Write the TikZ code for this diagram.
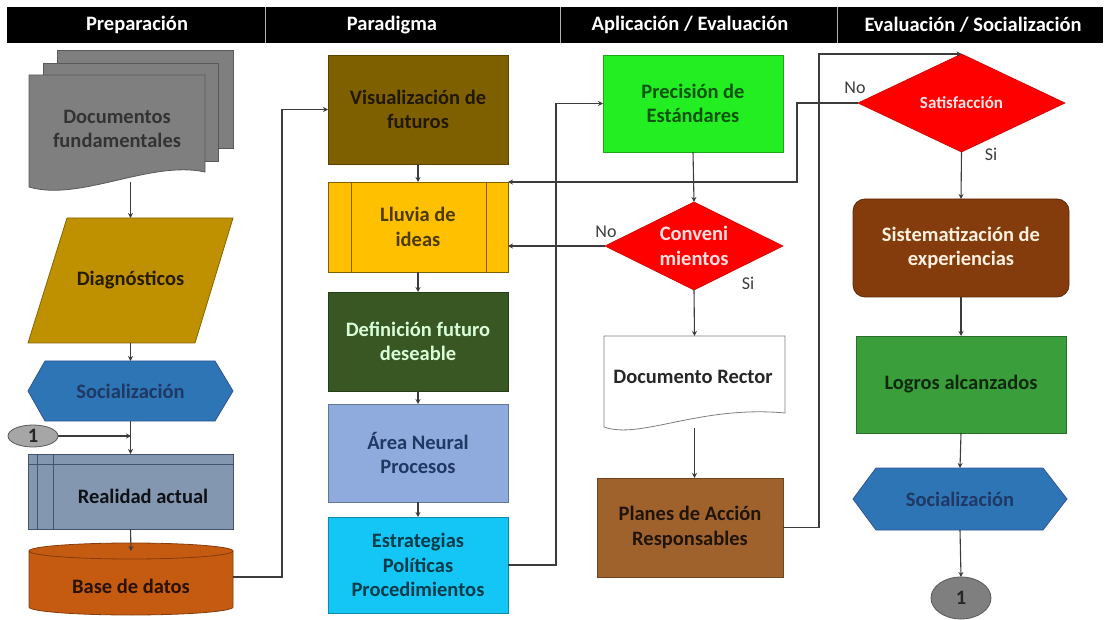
\documentclass[tikz,border=0pt]{standalone}
\usepackage{fontspec}
\setmainfont{Carlito}
\usetikzlibrary{arrows.meta,shapes.geometric}
\definecolor{lineC}{HTML}{3C3C3C}
\definecolor{docF}{HTML}{7F7F7F}
\definecolor{docD}{HTML}{595959}
\definecolor{diagF}{HTML}{BF9000}
\definecolor{socF}{HTML}{2E75B6}
\definecolor{socD}{HTML}{2F5597}
\definecolor{navyT}{HTML}{1F3864}
\definecolor{c1F}{HTML}{A6A6A6}
\definecolor{realF}{HTML}{8497B0}
\definecolor{realD}{HTML}{44546A}
\definecolor{dbF}{HTML}{C55A11}
\definecolor{dbD}{HTML}{843C0C}
\definecolor{visF}{HTML}{7F6000}
\definecolor{llF}{HTML}{FFC000}
\definecolor{defF}{HTML}{385723}
\definecolor{areaF}{HTML}{8FAADC}
\definecolor{estF}{HTML}{13C6F5}
\definecolor{precF}{HTML}{22EE22}
\definecolor{redF}{HTML}{FF0000}
\definecolor{planF}{HTML}{A0622D}
\definecolor{sistF}{HTML}{843C0C}
\definecolor{logF}{HTML}{3A9E3A}
\begin{document}
\begin{tikzpicture}[x=1pt,y=-1pt,
  lbl/.style={font=\fontsize{20.5}{24.5}\selectfont\bfseries, align=center, inner sep=0pt, outer sep=0pt},
  hdr/.style={lbl, text=white},
  frame/.style={inner sep=0pt, outer sep=0pt},
  boxn/.style={frame, draw=#1!70!black, fill=#1, line width=0.8pt},
  conn/.style={draw=lineC, line width=1.1pt},
  arr/.style={conn, -{Stealth[length=5pt,width=5pt]}},
  yesno/.style={font=\fontsize{18}{20}\selectfont, text=lineC, inner sep=0pt}
]
\useasboundingbox (0,0) rectangle (1106,620);
% header
\fill[black] (7,7) rectangle (1103,43);
\draw[gray!60, line width=1pt] (265,7)--(265,43) (560,7)--(560,43) (837,7)--(837,43);
\node[hdr] (h1) at (137,25) {Preparación};
\node[hdr] (h2) at (392,25) {Paradigma};
\node[hdr] (h3) at (690,25) {Aplicación / Evaluación};
\node[hdr] (h4) at (973,25) {Evaluación / Socialización};

% ---------- column 1 ----------
% multi document
\filldraw[fill=docF, draw=docD, line width=0.8pt] (57,50) rectangle (233,148);
\filldraw[fill=docF, draw=docD, line width=0.8pt] (43,63) rectangle (218,161);
\filldraw[fill=docF, draw=docD, line width=0.8pt] (29,75) -- (205,75) -- (205,172) .. controls (150,160) and (80,202) .. (29,187) -- cycle;
\node[lbl, text=black!80, frame, minimum width=176, minimum height=107] (doc) at (117,129) {Documentos\\fundamentales};
% parallelogram
\filldraw[fill=diagF, draw=diagF!70!black, line width=0.8pt] (67,218) -- (233,218) -- (195,343) -- (28,343) -- cycle;
\node[lbl, text=black!80!diagF, frame, minimum width=205, minimum height=125] (diag) at (130.5,280.5) {Diagnósticos};
% hexagon
\filldraw[fill=socF, draw=socD, line width=0.8pt] (28,391) -- (45,361) -- (215,361) -- (233,391) -- (215,421) -- (45,421) -- cycle;
\node[lbl, text=navyT, frame, minimum width=205, minimum height=60] (soc1) at (130.5,391) {Socialización};
% connector 1
\node[frame, draw=docD, fill=c1F, ellipse, minimum width=50, minimum height=22, line width=0.8pt] (c1) at (33,436) {};
\node[lbl, text=black!85] at (33,436) {1};
\coordinate (j1) at (131,436);
% predefined process
\node[boxn=realF, draw=realD, minimum width=205, minimum height=75] (real) at (130.5,491.5) {};
\draw[realD, line width=0.8pt] (28,464) -- (233,464) (37,454) -- (37,529) (53,454) -- (53,529);
\node[lbl, text=black!80!realD] (realt) at (143,496) {Realidad actual};
% database cylinder
\filldraw[fill=dbF, draw=dbD, line width=0.8pt] (29,551) -- (29,607) arc[start angle=180, end angle=0, x radius=102, y radius=8] -- (233,551) arc[start angle=0, end angle=-180, x radius=102, y radius=8] -- cycle;
\draw[dbD, line width=0.8pt] (29,551) arc[start angle=180, end angle=0, x radius=102, y radius=8];
\node[lbl, text=black!80!dbF, frame, minimum width=204, minimum height=64] (db) at (131,583) {};
\node[lbl, text=black!80!dbF] at (131,586) {Base de datos};

% ---------- column 2 ----------
\node[boxn=visF, lbl, text=black!75!visF, minimum width=180, minimum height=109] (vis) at (418,109.5) {Visualización de\\futuros};
\node[boxn=llF, draw=visF, lbl, text=black!70!llF, minimum width=180, minimum height=90] (llu) at (418,227) {Lluvia de\\ideas};
\draw[visF, line width=0.8pt] (351,182) -- (351,272) (486,182) -- (486,272);
\node[boxn=defF, lbl, text=green!15!white, minimum width=180, minimum height=99] (def) at (418,341.5) {Definición futuro\\deseable};
\node[boxn=areaF, lbl, text=navyT, minimum width=180, minimum height=98] (area) at (418,453) {Área Neural\\Procesos};
\node[boxn=estF, lbl, text=black!70!estF, minimum width=180, minimum height=96] (est) at (418,565) {Estrategias\\Políticas\\Procedimientos};

% ---------- column 3 ----------
\node[boxn=precF, lbl, text=black!65!precF, minimum width=180, minimum height=97] (prec) at (693,103.5) {Precisión de\\Estándares};
\filldraw[fill=redF, draw=redF!80!black, line width=0.6pt] (605,246) -- (694,202) -- (783,246) -- (694,290) -- cycle;
\node[lbl, text=red!12!white, frame, minimum width=178, minimum height=88] (conv) at (694,246) {Conveni\\mientos};
\filldraw[fill=white, draw=docF, line width=0.8pt] (604,336) -- (785,336) -- (785,413) .. controls (700,405) and (640,440) .. (604,427) -- cycle;
\node[frame, minimum width=181, minimum height=92] (rector) at (694.5,382) {};
\node[lbl, text=black!85] at (693,377) {Documento Rector};
\node[boxn=planF, lbl, text=black!80!planF, minimum width=186, minimum height=99] (plan) at (690,527.5) {Planes de Acción\\Responsables};

% ---------- column 4 ----------
\filldraw[fill=redF, draw=redF!80!black, line width=0.6pt] (858,103) -- (961.5,54) -- (1065,103) -- (961.5,152) -- cycle;
\node[lbl, font=\fontsize{17}{20}\selectfont\bfseries, text=red!10!white, frame, minimum width=207, minimum height=98] (sat) at (961.5,103) {Satisfacción};
\node[boxn=sistF, rounded corners=12pt, lbl, text=orange!12!white, minimum width=216, minimum height=98] (sist) at (961,248) {Sistematización de\\experiencias};
\node[boxn=logF, lbl, text=black!75!logF, minimum width=210, minimum height=97] (logr) at (961,384.5) {Logros alcanzados};
\filldraw[fill=socF, draw=socD, line width=0.8pt] (853,499) -- (876,468) -- (1043,468) -- (1067,499) -- (1043,530) -- (876,530) -- cycle;
\node[lbl, text=navyT, frame, minimum width=214, minimum height=62] (soc2) at (960,499) {Socialización};
\node[frame, draw=docD, fill=docF, ellipse, minimum width=60, minimum height=42, line width=0.8pt] (c2) at (961,598) {};
\node[lbl, text=black!85] at (961,598) {1};

% labels
\node[yesno] (no1) at (606,232) {No};
\node[yesno] (si1) at (748,283) {Si};
\node[yesno] (no2) at (855,88) {No};
\node[yesno] (si2) at (991,154) {Si};

% ---------- connectors ----------
\draw[arr] (doc.south -| diag.north) -- (diag.north);
\draw[arr] (diag.south) -- (soc1.north);
\draw[arr] (soc1.south) -- (real.north);
\draw[arr] (c1.east) -- (j1);
\draw[arr] (real.south) -- (db.north);
\draw[arr] ([yshift=6pt]db.east) -- ++(49,0) |- (vis.west);
\draw[arr] (vis.south) -- (llu.north);
\draw[arr] (llu.south) -- (def.north);
\draw[arr] (def.south) -- (area.north);
\draw[arr] (area.south) -- (est.north);
\draw[arr] (est.east) -- ++(48,0) |- (prec.west);
\draw[arr] (prec.south) -- (conv.north);
\draw[arr] (conv.west) -- (conv.west -| llu.east);
\draw[arr] (conv.south) -- (rector.north);
\draw[arr] (rector.south) -- (rector.south |- plan.north);
\coordinate (ptop) at (819,54);
\draw[arr] (plan.east) -| (ptop) -- (sat.north);
\coordinate (nojoin) at (797,182);
\draw[arr] (sat.west) -| (nojoin) -- (nojoin -| llu.east);
\draw[arr] (sat.south) -- (sist.north);
\draw[arr] (sist.south) -- (logr.north);
\draw[arr] (logr.south) -- (soc2.north);
\draw[arr] (soc2.south) -- (c2.north);
\end{tikzpicture}
\end{document}
